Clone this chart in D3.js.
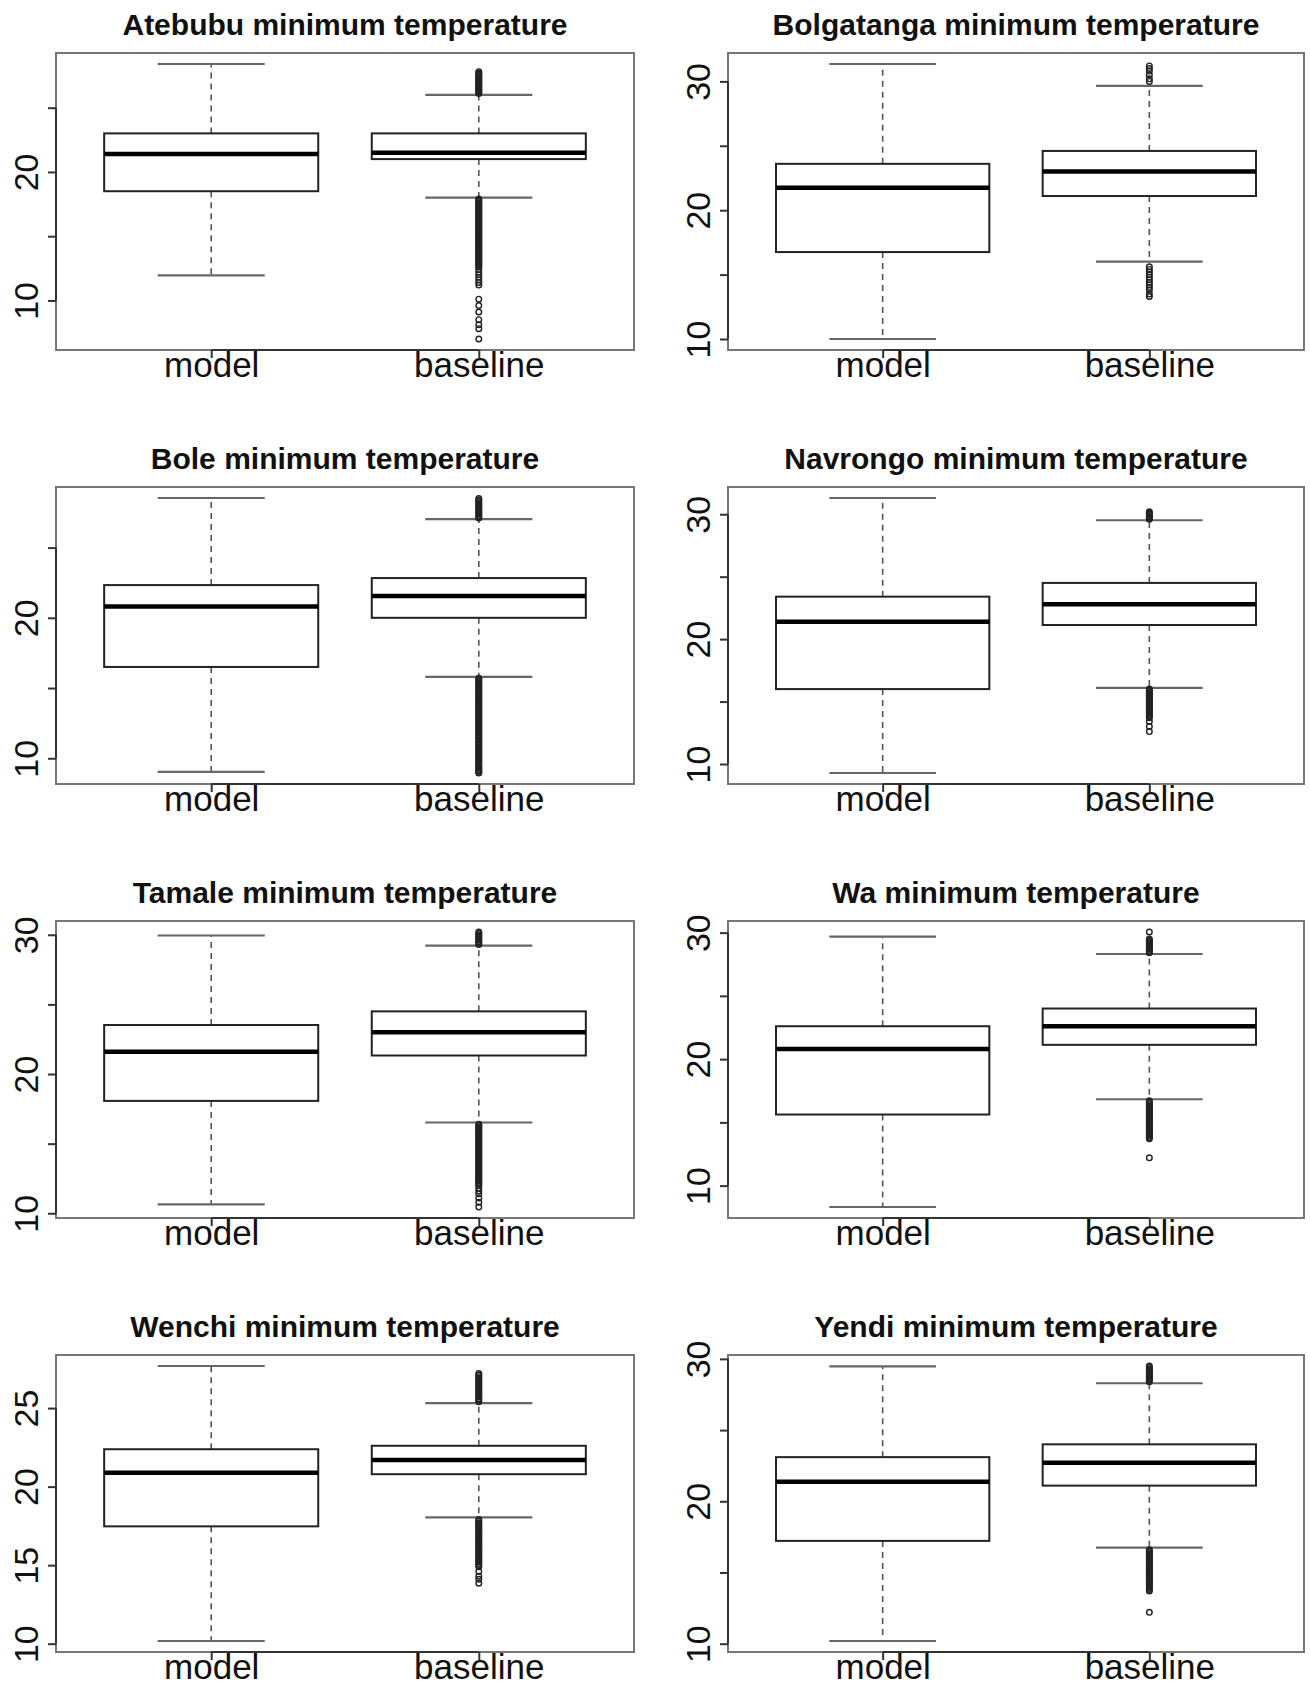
<!DOCTYPE html>
<html>
<head>
<meta charset="utf-8">
<script src="https://cdn.jsdelivr.net/npm/d3@7"></script>
<style>
  html, body { margin: 0; padding: 0; background: #fff; }
  svg { display: block; }
</style>
</head>
<body>
<div id="chart"></div>
<script>
// ── Minimum temperature boxplots, model vs baseline, eight stations ──

const stations = ['Atebubu', 'Bolgatanga', 'Bole', 'Navrongo', 'Tamale', 'Wa', 'Wenchi', 'Yendi']
const groups = ['model', 'baseline']

// [lower whisker, Q1, median, Q3, upper whisker]
const modelStats = [
  [11.95, 18.5, 21.4, 23.0, 28.4],
  [10.0, 16.75, 21.75, 23.6, 31.35],
  [9.03, 16.5, 20.8, 22.33, 28.53],
  [9.28, 16.0, 21.4, 23.4, 31.3],
  [10.64, 18.07, 21.6, 23.52, 29.95],
  [8.31, 15.62, 20.8, 22.6, 29.68],
  [10.17, 17.47, 20.89, 22.38, 27.68],
  [10.19, 17.22, 21.37, 23.1, 29.48],
]
const baselineStats = [
  [18.0, 21.0, 21.5, 23.0, 26.0],
  [16.0, 21.1, 23.0, 24.6, 29.65],
  [15.8, 20.0, 21.55, 22.83, 27.03],
  [16.1, 21.13, 22.8, 24.5, 29.52],
  [16.52, 21.33, 23.0, 24.5, 29.22],
  [16.83, 21.13, 22.6, 24.0, 28.31],
  [18.04, 20.79, 21.7, 22.6, 25.32],
  [16.75, 21.1, 22.7, 24.0, 28.29],
]

// baseline outliers
const baselineOutliers = [
  [26.1, 26.2, 26.3, 26.4, 26.5, 26.6, 26.7, 26.8, 26.9, 27.0, 27.1, 27.2, 27.3, 27.4, 27.5, 27.6, 27.7, 27.8,
   17.9, 17.8, 17.7, 17.6, 17.5, 17.4, 17.3, 17.2, 17.1, 17.0, 16.9, 16.8, 16.7, 16.6, 16.5, 16.4, 16.3, 16.2,
   16.1, 16.0, 15.9, 15.8, 15.7, 15.6, 15.5, 15.4, 15.3, 15.2, 15.1, 15.0, 14.9, 14.8, 14.7, 14.6, 14.5, 14.4,
   14.3, 14.2, 14.1, 14.0, 13.9, 13.8, 13.7, 13.6, 13.5, 13.4, 13.3, 13.2, 13.1, 13.0, 12.9, 12.8, 12.7, 12.6,
   12.4, 12.2, 12.0, 11.8, 11.6, 11.4, 11.2, 10.1, 9.6, 9.1, 8.5, 8.1, 7.8, 7.0],
  [30.0, 30.2, 30.5, 30.8, 31.0, 31.2,
   15.6, 15.4, 15.2, 15.0, 14.8, 14.6, 14.4, 14.2, 14.0, 13.8, 13.5, 13.3],
  [27.1, 27.2, 27.3, 27.4, 27.5, 27.6, 27.7, 27.8, 27.9, 28.0, 28.1, 28.2, 28.3, 28.4, 28.5,
   15.7, 15.6, 15.5, 15.4, 15.3, 15.2, 15.1, 15.0, 14.9, 14.8, 14.7, 14.6, 14.5, 14.4, 14.3, 14.2, 14.1, 14.0,
   13.9, 13.8, 13.7, 13.6, 13.5, 13.4, 13.3, 13.2, 13.1, 13.0, 12.9, 12.8, 12.7, 12.6, 12.5, 12.4, 12.3, 12.2,
   12.1, 12.0, 11.9, 11.8, 11.7, 11.6, 11.5, 11.4, 11.3, 11.2, 11.1, 11.0, 10.9, 10.8, 10.7, 10.6, 10.5, 10.4,
   10.3, 10.2, 10.1, 10.0, 9.9, 9.8, 9.7, 9.6, 9.5, 9.4, 9.3, 9.2, 9.1, 9.0, 8.95],
  [29.6, 29.7, 29.8, 29.9, 30.0, 30.1, 30.2,
   16.0, 15.9, 15.8, 15.7, 15.6, 15.5, 15.4, 15.3, 15.2, 15.1, 15.0, 14.9, 14.8, 14.7, 14.6, 14.5, 14.4, 14.3,
   14.2, 14.1, 14.0, 13.9, 13.8, 13.7, 13.4, 13.0, 12.6],
  [29.3, 29.4, 29.5, 29.6, 29.7, 29.8, 29.9, 30.0, 30.1, 30.2,
   16.4, 16.3, 16.2, 16.1, 16.0, 15.9, 15.8, 15.7, 15.6, 15.5, 15.4, 15.3, 15.2, 15.1, 15.0, 14.9, 14.8, 14.7,
   14.6, 14.5, 14.4, 14.3, 14.2, 14.1, 14.0, 13.9, 13.8, 13.7, 13.6, 13.5, 13.4, 13.3, 13.2, 13.1, 13.0, 12.9,
   12.8, 12.7, 12.6, 12.5, 12.4, 12.3, 12.2, 12.1, 12.0, 11.8, 11.6, 11.4, 11.1, 10.8, 10.45],
  [28.4, 28.5, 28.6, 28.7, 28.8, 28.9, 29.0, 29.1, 29.2, 29.3, 29.4, 29.5, 30.05,
   16.7, 16.6, 16.5, 16.4, 16.3, 16.2, 16.1, 16.0, 15.9, 15.8, 15.7, 15.6, 15.5, 15.4, 15.3, 15.2, 15.1, 15.0,
   14.9, 14.8, 14.7, 14.6, 14.5, 14.4, 14.3, 14.2, 14.1, 14.0, 13.9, 13.8, 13.7, 12.2],
  [25.4, 25.5, 25.6, 25.7, 25.8, 25.9, 26.0, 26.1, 26.2, 26.3, 26.4, 26.5, 26.6, 26.7, 26.8, 26.9, 27.0, 27.1, 27.2,
   17.9, 17.8, 17.7, 17.6, 17.5, 17.4, 17.3, 17.2, 17.1, 17.0, 16.9, 16.8, 16.7, 16.6, 16.5, 16.4, 16.3, 16.2,
   16.1, 16.0, 15.9, 15.8, 15.7, 15.6, 15.5, 15.4, 15.3, 15.2, 15.1, 15.0, 14.9, 14.6, 14.3, 14.1, 13.85],
  [28.4, 28.5, 28.6, 28.7, 28.8, 28.9, 29.0, 29.1, 29.2, 29.3, 29.4, 29.5,
   16.6, 16.5, 16.4, 16.3, 16.2, 16.1, 16.0, 15.9, 15.8, 15.7, 15.6, 15.5, 15.4, 15.3, 15.2, 15.1, 15.0, 14.9,
   14.8, 14.7, 14.6, 14.5, 14.4, 14.3, 14.2, 14.1, 14.0, 13.9, 13.8, 13.7, 12.2],
]

const yTicks = [
  [10, 15, 20, 25], [10, 15, 20, 25, 30], [10, 15, 20, 25], [10, 15, 20, 25, 30],
  [10, 15, 20, 25, 30], [10, 15, 20, 25, 30], [10, 15, 20, 25], [10, 15, 20, 25, 30],
]
const yTickLabels = [
  [10, 20], [10, 20, 30], [10, 20], [10, 20, 30],
  [10, 20, 30], [10, 20, 30], [10, 15, 20, 25], [10, 20, 30],
]

// ── layout ──
const width = 1310, height = 1686
const colLeft = [56, 728], colRight = [634, 1304]
const rowTop = [53, 487, 921, 1355]
const plotH = 297
const font = '"Liberation Sans", Arial, Helvetica, sans-serif'

const svg = d3.select('#chart')
  .append('svg')
  .attr('width', width)
  .attr('height', height)
  .style('background', '#fff')

stations.forEach((name, i) => drawPanel(name, i))

function drawPanel(name, i) {
  const col = i % 2, row = Math.floor(i / 2)
  const left = colLeft[col], right = colRight[col]
  const top = rowTop[row], bottom = top + plotH
  const stats = [modelStats[i], baselineStats[i]]
  const outs = baselineOutliers[i]

  // R-style range: data extent padded by 4% each side
  const all = stats.flat().concat(outs)
  const lo = d3.min(all), hi = d3.max(all), pad = (hi - lo) * 0.04
  const y = d3.scaleLinear().domain([lo - pad, hi + pad]).range([bottom, top])
  const x = d3.scaleLinear().domain([0.42, 2.58]).range([left, right])

  const g = svg.append('g').attr('class', 'panel')

  g.append('text')
    .attr('x', (left + right) / 2)
    .attr('y', top - 18)
    .attr('text-anchor', 'middle')
    .attr('font-family', font)
    .attr('font-weight', 700)
    .attr('font-size', 30)
    .attr('fill', '#111')
    .text(name + ' minimum temperature')

  // frame
  g.append('rect')
    .attr('x', left).attr('y', top)
    .attr('width', right - left).attr('height', plotH)
    .attr('fill', 'none')
    .attr('stroke', '#777')
    .attr('stroke-width', 2)

  // y axis
  const tks = yTicks[i], labs = yTickLabels[i]
  const yAxis = g.append('g')
    .attr('transform', `translate(${left},0)`)
    .call(d3.axisLeft(y).tickValues(tks).tickSize(8).tickFormat(d => labs.includes(d) ? d : ''))
  yAxis.select('.domain').remove()
  yAxis.selectAll('line').attr('stroke', '#333').attr('stroke-width', 2)
  yAxis.selectAll('text')
    .attr('transform', 'rotate(-90)')
    .attr('x', 0).attr('y', -18).attr('dy', 0)
    .attr('text-anchor', 'middle')
    .attr('font-family', font)
    .attr('font-size', 34)
    .attr('fill', '#111')
  g.append('line')
    .attr('x1', left).attr('x2', left)
    .attr('y1', y(d3.min(tks))).attr('y2', y(d3.max(tks)))
    .attr('stroke', '#333').attr('stroke-width', 2)

  // x axis
  const xAxis = g.append('g')
    .attr('transform', `translate(0,${bottom})`)
    .call(d3.axisBottom(x).tickValues([1, 2]).tickSize(8).tickFormat(d => groups[d - 1]))
  xAxis.select('.domain').remove()
  xAxis.selectAll('line').attr('stroke', '#333').attr('stroke-width', 2)
  xAxis.selectAll('text')
    .attr('y', 27).attr('dy', 0)
    .attr('font-family', font)
    .attr('font-size', 35)
    .attr('fill', '#111')
  g.append('line')
    .attr('x1', x(1)).attr('x2', x(2))
    .attr('y1', bottom).attr('y2', bottom)
    .attr('stroke', '#333').attr('stroke-width', 2)

  // boxes
  stats.forEach((s, j) => {
    const c = j + 1
    const bg = g.append('g').attr('class', 'box')
    ;[[s[1], s[0]], [s[3], s[4]]].forEach(([a, b]) => {
      bg.append('line')
        .attr('x1', x(c)).attr('x2', x(c))
        .attr('y1', y(a)).attr('y2', y(b))
        .attr('stroke', '#555')
        .attr('stroke-width', 1.6)
        .attr('stroke-dasharray', '6,5')
    })
    ;[s[0], s[4]].forEach(v => {
      bg.append('line')
        .attr('x1', x(c - 0.2)).attr('x2', x(c + 0.2))
        .attr('y1', y(v)).attr('y2', y(v))
        .attr('stroke', '#666')
        .attr('stroke-width', 2.2)
    })
    bg.append('rect')
      .attr('x', x(c - 0.4))
      .attr('y', y(s[3]))
      .attr('width', x(c + 0.4) - x(c - 0.4))
      .attr('height', y(s[1]) - y(s[3]))
      .attr('fill', '#fff')
      .attr('stroke', '#222')
      .attr('stroke-width', 2)
    bg.append('line')
      .attr('x1', x(c - 0.4)).attr('x2', x(c + 0.4))
      .attr('y1', y(s[2])).attr('y2', y(s[2]))
      .attr('stroke', '#000')
      .attr('stroke-width', 4.5)
  })

  // outliers (baseline only)
  g.append('g').selectAll('circle')
    .data(outs)
    .join('circle')
    .attr('cx', x(2))
    .attr('cy', d => y(d))
    .attr('r', 2.8)
    .attr('fill', 'none')
    .attr('stroke', '#222')
    .attr('stroke-width', 1.4)
}
</script>
</body>
</html>
